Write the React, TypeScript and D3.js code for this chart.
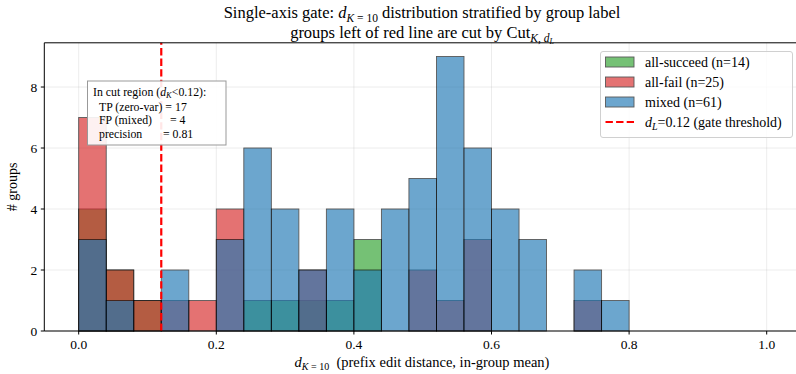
import * as d3 from "d3";

// histogram bins: width 0.04 starting at 0
const binWidth = 0.04;
const allSucceed = [4, 2, 1, 0, 0, 0, 1, 1, 1, 1, 3, 0, 0, 0, 0, 0, 0, 0, 0, 0];
const allFail = [7, 2, 1, 1, 1, 4, 0, 0, 2, 0, 0, 0, 2, 1, 3, 0, 0, 0, 1, 0];
const mixed = [3, 1, 0, 2, 0, 3, 6, 4, 2, 4, 2, 4, 5, 9, 6, 4, 3, 0, 2, 1];

const xTicks = [0, 0.2, 0.4, 0.6, 0.8, 1.0];
const yTicks = [0, 2, 4, 6, 8];
const threshold = 0.12;

const series = [
  { name: "all-succeed (n=14)", values: allSucceed, color: "#2ca02c" },
  { name: "all-fail (n=25)", values: allFail, color: "#d62728" },
  { name: "mixed (n=61)", values: mixed, color: "#1f77b4" },
];

const W = 796;
const H = 374;
const font = "'Liberation Serif', 'DejaVu Serif', serif";

export default function App() {
  const x = d3.scaleLinear().domain([-0.05, 1.05]).range([44.3, 801.1]);
  const y = d3.scaleLinear().domain([0, 9.45]).range([331, 42.8]);
  const [x0, x1] = [x(-0.05), W];
  const [yb, yt] = y.range();
  const cx = 422;

  return (
    <svg
      width={W}
      height={H}
      style={{ position: "absolute", left: 0, top: 0, background: "#fff" }}
      fontFamily={font}
    >
      {/* title */}
      <text x={cx} y={18} textAnchor="middle" fontSize={16.5}>
        Single-axis gate: <tspan fontStyle="italic">d</tspan>
        <tspan fontSize={11.5} dy={4}>
          <tspan fontStyle="italic">K</tspan> = 10
        </tspan>
        <tspan dy={-4}> distribution stratified by group label</tspan>
      </text>
      <text x={cx} y={38} textAnchor="middle" fontSize={16.5}>
        groups left of red line are cut by Cut
        <tspan fontSize={11.5} dy={4}>
          <tspan fontStyle="italic">K</tspan>, <tspan fontStyle="italic">d</tspan>
        </tspan>
        <tspan fontSize={8} dy={2} fontStyle="italic">L</tspan>
      </text>

      {/* grid */}
      <g stroke="#b0b0b0" strokeOpacity={0.3} strokeWidth={0.8}>
        {xTicks.map((t) => (
          <line key={"gx" + t} x1={x(t)} x2={x(t)} y1={yb} y2={yt} />
        ))}
        {yTicks.map((t) => (
          <line key={"gy" + t} x1={x0} x2={x1} y1={y(t)} y2={y(t)} />
        ))}
      </g>

      {/* bars */}
      {series.map((s) => (
        <g key={s.name}>
          {s.values.map((v, i) =>
            v > 0 ? (
              <rect
                key={i}
                x={x(i * binWidth)}
                width={x((i + 1) * binWidth) - x(i * binWidth)}
                y={y(v)}
                height={y(0) - y(v)}
                fill={s.color}
                stroke="#000"
                strokeWidth={0.9}
                opacity={0.65}
              />
            ) : null
          )}
        </g>
      ))}

      {/* threshold */}
      <line
        x1={x(threshold)}
        x2={x(threshold)}
        y1={yb}
        y2={yt}
        stroke="#ff0000"
        strokeWidth={2.2}
        strokeDasharray="7.4 3.2"
      />

      {/* spines */}
      <g stroke="#000" strokeWidth={1}>
        <line x1={x0} x2={x1} y1={yb} y2={yb} />
        <line x1={x0} x2={x1} y1={yt} y2={yt} />
        <line x1={x0} x2={x0} y1={yb} y2={yt} />
      </g>

      {/* x axis ticks */}
      {xTicks.map((t) => (
        <g key={"xt" + t}>
          <line x1={x(t)} x2={x(t)} y1={yb} y2={yb + 3.5} stroke="#000" />
          <text x={x(t)} y={yb + 18} textAnchor="middle" fontSize={13.5}>
            {d3.format(".1f")(t)}
          </text>
        </g>
      ))}
      {yTicks.map((t) => (
        <g key={"yt" + t}>
          <line x1={x0} x2={x0 - 3.5} y1={y(t)} y2={y(t)} stroke="#000" />
          <text x={x0 - 7} y={y(t) + 4.5} textAnchor="end" fontSize={13.5}>
            {t}
          </text>
        </g>
      ))}

      {/* axis labels */}
      <text x={cx} y={367} textAnchor="middle" fontSize={14.5}>
        <tspan fontStyle="italic">d</tspan>
        <tspan fontSize={10} dy={3}>
          <tspan fontStyle="italic">K</tspan> = 10
        </tspan>
        <tspan dy={-3} style={{ whiteSpace: "pre" }}>{"  (prefix edit distance, in-group mean)"}</tspan>
      </text>
      <text
        transform={`translate(17,${(yb + yt) / 2}) rotate(-90)`}
        textAnchor="middle"
        fontSize={14}
      >
        # groups
      </text>

      {/* annotation box */}
      <g>
        <rect
          x={87.5}
          y={81}
          width={138.5}
          height={64}
          fill="#fff"
          fillOpacity={0.9}
          stroke="#999"
          strokeWidth={1}
        />
        <g fontSize={11.8}>
          <text x={93} y={96}>
            In cut region (<tspan fontStyle="italic">d</tspan>
            <tspan fontSize={8.5} dy={2} fontStyle="italic">K</tspan>
            <tspan dy={-2}>{"<0.12):"}</tspan>
          </text>
          <text x={99} y={110.5}>TP (zero-var) = 17</text>
          <text x={99} y={124}>FP (mixed)</text>
          <text x={170} y={124}>= 4</text>
          <text x={99} y={137.5}>precision</text>
          <text x={163} y={137.5}>= 0.81</text>
        </g>
      </g>

      {/* legend */}
      <g>
        <rect
          x={600.5}
          y={51.5}
          width={192}
          height={86}
          rx={2.5}
          fill="#fff"
          fillOpacity={0.8}
          stroke="#d0d0d0"
        />
        {series.map((s, i) => (
          <g key={"lg" + s.name}>
            <rect
              x={605.5}
              y={57 + i * 20}
              width={28.5}
              height={10}
              fill={s.color}
              stroke="#000"
              strokeWidth={0.9}
              opacity={0.65}
            />
            <text x={645} y={66.5 + i * 20} fontSize={14}>
              {s.name}
            </text>
          </g>
        ))}
        <line
          x1={605.5}
          x2={634}
          y1={122}
          y2={122}
          stroke="#ff0000"
          strokeWidth={2.2}
          strokeDasharray="7.4 3.2"
        />
        <text x={645} y={126.5} fontSize={14}>
          <tspan fontStyle="italic">d</tspan>
          <tspan fontSize={10} dy={3} fontStyle="italic">L</tspan>
          <tspan dy={-3}>=0.12 (gate threshold)</tspan>
        </text>
      </g>
    </svg>
  );
}
